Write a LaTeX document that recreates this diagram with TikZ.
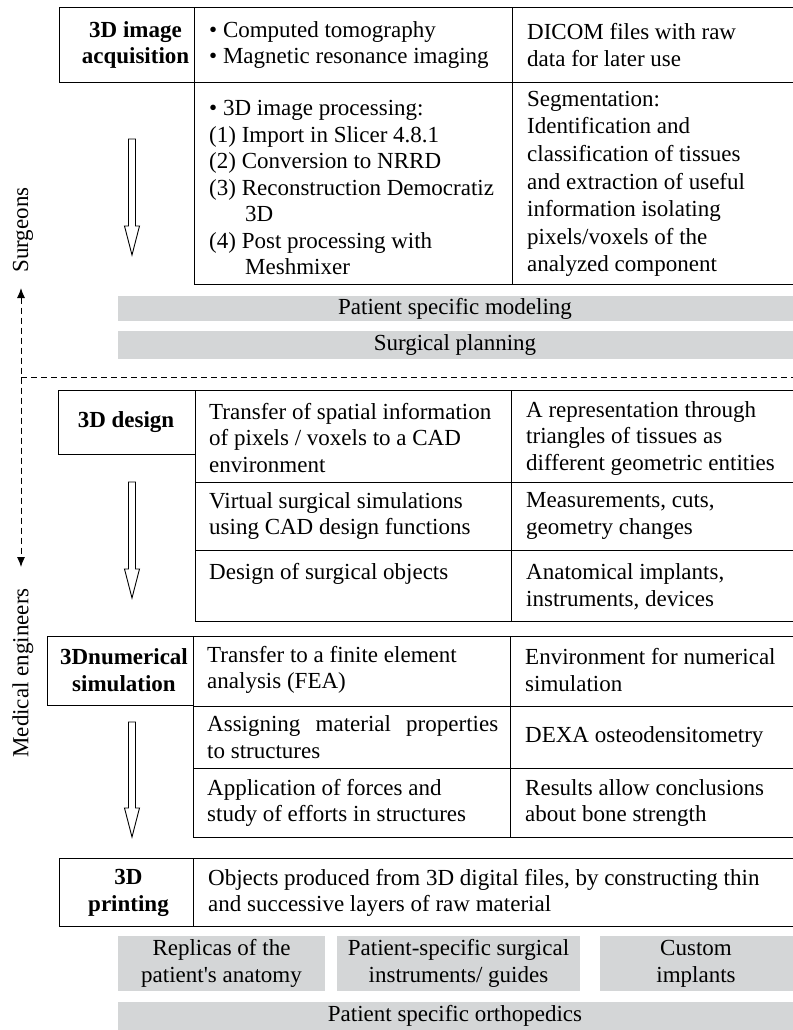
\documentclass[tikz,border=0pt]{standalone}
\usepackage{fontspec}
\setmainfont{Liberation Serif}
\usetikzlibrary{arrows.meta}
\definecolor{barGray}{RGB}{212,214,215}
\begin{document}
\begin{tikzpicture}[x=1pt,y=-1pt,
  cell/.style={draw=black,line width=1pt},
  txt/.style={font=\fontsize{23}{26.5}\selectfont,inner sep=0pt,anchor=west,align=left},
  lbl/.style={font=\fontsize{23}{26.5}\selectfont\bfseries,inner sep=0pt,align=center},
  bar/.style={fill=barGray,draw=none},
  bartxt/.style={font=\fontsize{23}{27}\selectfont,inner sep=0pt,align=center},
  blockarrow/.style={draw=black,line width=0.9pt,fill=white},
  role/.style={font=\fontsize{23}{26.5}\selectfont,inner sep=0pt,rotate=90},
  dashline/.style={draw=black,line width=1pt,dash pattern=on 6pt off 4pt},
]
\useasboundingbox (0,0) rectangle (792,1030);

% ---------- Section 1: 3D image acquisition ----------
\draw[cell] (59,8) rectangle (795,83);
\draw[cell] (194,83) rectangle (795,284);
\draw[cell] (194,8) -- (194,83);
\draw[cell] (512,8) -- (512,284);
\node[lbl] (acq) at (135.5,45) {3D image\\acquisition};
\node[txt] (acqA) at (209,45) {\textbullet{} Computed tomography\\\textbullet{} Magnetic resonance imaging};
\node[txt] (acqB) at (527,45) {DICOM files with raw\\data for later use};
\node[txt] (procA) at (209,187.5) {\textbullet{} 3D image processing:\\(1) Import in Slicer 4.8.1\\(2) Conversion to NRRD\\(3) Reconstruction Democratiz\\\hspace*{36pt}3D\\(4) Post processing with\\\hspace*{36pt}Meshmixer};
\node[txt,font=\fontsize{23}{27.6}\selectfont] (procB) at (527,184) {Segmentation:\\Identification and\\classification of tissues\\and extraction of useful\\information isolating\\pixels/voxels of the\\analyzed component};
\path[blockarrow] (128.5,139) -- (135.5,139) -- (135.5,226) -- (139.5,226) -- (132,255) -- (124.5,226) -- (128.5,226) -- cycle;

% gray bars
\fill[bar] (118,296) rectangle (795,321);
\node[bartxt] (psm) at (455,308.5) {Patient specific modeling};
\fill[bar] (118,331) rectangle (795,359);
\node[bartxt] (sp) at (455,345) {Surgical planning};

% dashed separator and roles
\coordinate (dl) at (21,377);
\coordinate (dr) at (795,377);
\draw[dashline] (dl) -- (dr);
\coordinate (rTop) at (21,288);
\coordinate (rBot) at (21,567);
\draw[dashline,{Latex[length=10pt,width=8pt]}-{Latex[length=10pt,width=8pt]}] (rTop) -- (rBot);
\node[role] (surg) at (23,230) {Surgeons};
\node[role] (medeng) at (23,673) {Medical engineers};

% ---------- Section 2: 3D design ----------
\draw[cell] (58,390) rectangle (195,454);
\draw[cell] (195,390) rectangle (795,621);
\draw[cell] (195,482) -- (795,482);
\draw[cell] (195,550) -- (795,550);
\draw[cell] (511,390) -- (511,621);
\node[lbl] (des) at (126,422) {3D design};
\node[txt] (d1a) at (209,438) {Transfer of spatial information\\of pixels / voxels to a CAD\\environment};
\node[txt] (d1b) at (526,438) {A representation through\\triangles of tissues as\\different geometric entities};
\node[txt] (d2a) at (209,516) {Virtual surgical simulations\\using CAD design functions};
\node[txt] (d2b) at (526,516) {Measurements, cuts,\\geometry changes};
\node[txt] (d3a) at (209,574) {Design of surgical objects};
\node[txt] (d3b) at (526,587) {Anatomical implants,\\instruments, devices};
\path[blockarrow] (128.5,482) -- (135.5,482) -- (135.5,569) -- (139.5,569) -- (132,598) -- (124.5,569) -- (128.5,569) -- cycle;

% ---------- Section 3: 3D numerical simulation ----------
\draw[cell] (47,636) rectangle (193,705);
\draw[cell] (193,636) rectangle (795,837);
\draw[cell] (193,706) -- (795,706);
\draw[cell] (193,768) -- (795,768);
\draw[cell] (510,636) -- (510,837);
\node[lbl] (num) at (124,670) {3Dnumerical\\simulation};
\node[txt] (n1a) at (207,670) {Transfer to a finite element\\analysis (FEA)};
\node[txt] (n1b) at (525,670) {Environment for numerical\\simulation};
\node[txt] (n2a) at (207,737) {\makebox[291pt][s]{Assigning material properties}\\to structures};
\node[txt] (n2b) at (525,737) {DEXA osteodensitometry};
\node[txt] (n3a) at (207,803) {Application of forces and\\study of efforts in structures};
\node[txt] (n3b) at (525,803) {Results allow conclusions\\about bone strength};
\path[blockarrow] (128.5,722) -- (135.5,722) -- (135.5,808) -- (139.5,808) -- (132,837) -- (124.5,808) -- (128.5,808) -- cycle;

% ---------- Section 4: 3D printing ----------
\draw[cell] (59,858) rectangle (795,926);
\draw[cell] (193,858) -- (193,926);
\node[lbl] (prt) at (128.5,893) {3D\\printing};
\node[txt] (prtA) at (208,893) {Objects produced from 3D digital files, by constructing thin\\and successive layers of raw material};

\fill[bar] (118,936) rectangle (325,991);
\node[bartxt] (rep) at (221.5,963.5) {Replicas of the\\patient\textquotesingle s anatomy};
\fill[bar] (337,936) rectangle (580,991);
\node[bartxt] (inst) at (458.5,963.5) {Patient-specific surgical\\instruments/ guides};
\fill[bar] (600,936) rectangle (795,991);
\node[bartxt] (impl) at (696,963.5) {Custom\\implants};
\fill[bar] (118,1002) rectangle (795,1035);
\node[bartxt] (pso) at (455,1016) {Patient specific orthopedics};
\end{tikzpicture}
\end{document}
